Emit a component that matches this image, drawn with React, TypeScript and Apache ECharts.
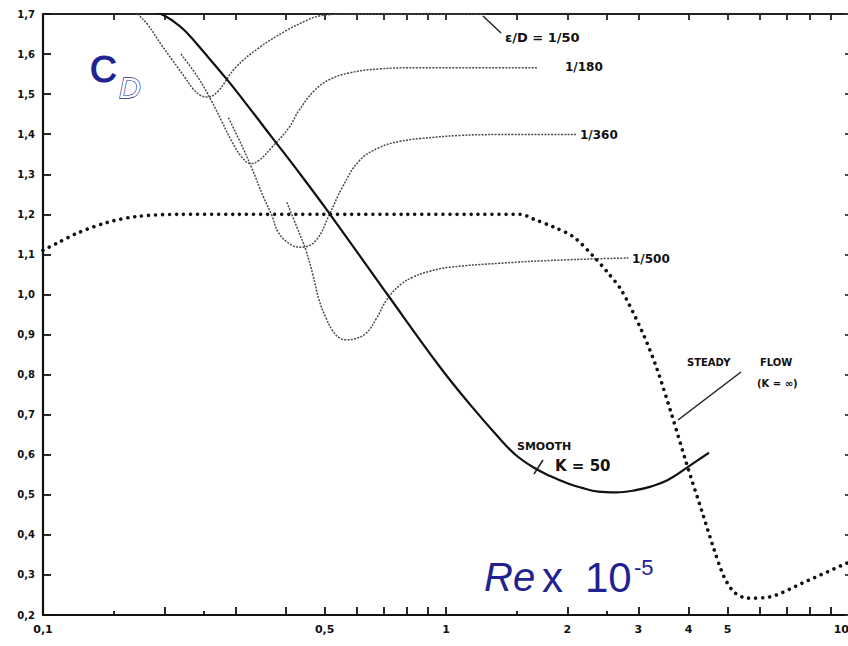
import React, { useEffect, useRef } from 'react';
import * as echarts from 'echarts';

// ---- axis ticks / labels ----
const xLabelValues = [0.1, 0.5, 1, 2, 3, 4, 5, 10];
const xLabelTexts = ['0,1', '0,5', '1', '2', '3', '4', '5', '10'];
const xMajorTicks = [0.2, 0.3, 0.4, 0.5, 0.6, 0.7, 0.8, 0.9, 1, 2, 3, 4, 5, 6, 7, 8, 9];
const xMinorTicks = [0.15, 0.25, 1.5, 2.5];

// ---- smooth cylinder, K = 50 ----
const smoothX = [0.175, 0.196, 0.210, 0.225, 0.253, 0.288, 0.329, 0.370, 0.432, 0.513, 0.712, 0.966, 1.148, 1.365, 1.487, 1.650, 1.820, 2.007, 2.163, 2.385, 2.645, 2.935, 3.236, 3.569, 4.004, 4.493];
const smoothY = [1.712, 1.700, 1.683, 1.658, 1.600, 1.533, 1.459, 1.392, 1.304, 1.203, 1.003, 0.819, 0.725, 0.638, 0.600, 0.568, 0.546, 0.528, 0.518, 0.508, 0.506, 0.511, 0.521, 0.538, 0.571, 0.605];

// ---- steady flow (K = infinity) ----
const steadyX = [0.1, 0.1084, 0.1216, 0.1445, 0.1718, 0.2163, 0.3, 0.5, 0.8, 1.2, 1.531, 1.650, 1.852, 2.078, 2.332, 2.527, 2.723, 3.055, 3.331, 3.631, 3.958, 4.315, 4.624, 4.898, 5.188, 5.592, 6.346, 7.674, 10];
const steadyY = [1.110, 1.128, 1.153, 1.180, 1.195, 1.200, 1.200, 1.200, 1.200, 1.200, 1.200, 1.188, 1.168, 1.143, 1.093, 1.053, 1.011, 0.911, 0.817, 0.700, 0.576, 0.459, 0.364, 0.295, 0.257, 0.242, 0.245, 0.280, 0.332];

// ---- rough cylinders ----
const rough50X = [0.1669, 0.1718, 0.182, 0.1961, 0.2101, 0.2252, 0.2358, 0.2469, 0.257, 0.2723, 0.3003, 0.3428, 0.4003, 0.4492, 0.4842, 0.5754, 0.7674, 1.252];
const rough50Y = [1.712, 1.700, 1.673, 1.625, 1.583, 1.541, 1.513, 1.496, 1.493, 1.508, 1.566, 1.615, 1.658, 1.683, 1.695, 1.700, 1.700, 1.700];

const rough180X = [0.22, 0.2427, 0.2616, 0.2771, 0.2934, 0.3108, 0.3273, 0.3428, 0.3695, 0.4074, 0.4315, 0.4704, 0.5129, 0.5754, 0.6839, 0.861, 1.6885];
const rough180Y = [1.600, 1.541, 1.484, 1.434, 1.384, 1.344, 1.327, 1.334, 1.367, 1.416, 1.459, 1.508, 1.536, 1.553, 1.563, 1.566, 1.566];

const rough360X = [0.2884, 0.309, 0.3292, 0.3528, 0.3695, 0.3846, 0.4145, 0.439, 0.4759, 0.5129, 0.5527, 0.6095, 0.6839, 0.7674, 0.861, 1.0839, 1.3646, 2.1012];
const rough360Y = [1.441, 1.379, 1.317, 1.242, 1.198, 1.153, 1.123, 1.118, 1.135, 1.198, 1.267, 1.334, 1.367, 1.382, 1.389, 1.397, 1.399, 1.399];

const rough500X = [0.4027, 0.4266, 0.4492, 0.4677, 0.4842, 0.5041, 0.5219, 0.5433, 0.5655, 0.5922, 0.6346, 0.673, 0.712, 0.7674, 0.8272, 0.912, 1.0233, 1.3646, 1.9275, 2.835];
const rough500Y = [1.230, 1.168, 1.110, 1.048, 0.986, 0.941, 0.911, 0.892, 0.887, 0.889, 0.904, 0.941, 0.986, 1.023, 1.043, 1.058, 1.068, 1.078, 1.086, 1.091];

const lg = (v: number) => Math.log10(v);
const pairs = (xs: number[], ys: number[]) => xs.map((x, i) => [lg(x), ys[i]]);

export default function App() {
  const ref = useRef<HTMLDivElement>(null);
  useEffect(() => {
    const chart = echarts.init(ref.current as HTMLDivElement, null, { renderer: 'svg' });
    const ink = '#111';
    const labelFont = 'DejaVu Sans';
    const blue = '#1f2391';
    const formatX = (v: number) => {
      const i = xLabelValues.findIndex((x) => Math.abs(lg(x) - v) < 1e-6);
      return i >= 0 ? xLabelTexts[i] : '';
    };
    const roughStyle = { color: '#4a4a4a', width: 1.5, type: [2, 1.3] };
    const lineSeries = (name: string, data: number[][], lineStyle: any, smooth = 0.4, z = 2) => ({
      name,
      type: 'line',
      data,
      xAxisIndex: 0,
      yAxisIndex: 0,
      showSymbol: false,
      symbol: 'none',
      smooth,
      silent: true,
      clip: true,
      z,
      lineStyle,
    });
    const txt = (text: string, x: number, y: number, font: string, extra: any = {}) => ({
      type: 'text',
      x,
      y,
      silent: true,
      style: { text, font, fill: ink, verticalAlign: 'middle', align: 'left', ...extra },
    });
    const leader = (x1: number, y1: number, x2: number, y2: number) => ({
      type: 'line',
      silent: true,
      shape: { x1, y1, x2, y2 },
      style: { stroke: '#222', lineWidth: 1.5 },
    });

    const option: any = {
      animation: false,
      backgroundColor: '#ffffff',
      grid: { left: 43, top: 14, width: 806, bottom: 31, containLabel: false, outerBoundsMode: 'none' },
      xAxis: [
        {
          type: 'value', position: 'bottom', min: -1, max: 1,
          axisLine: { show: true, onZero: false, lineStyle: { color: ink, width: 2.2 } },
          axisTick: { show: true, inside: true, length: 8, customValues: xMajorTicks.map(lg), lineStyle: { color: ink, width: 1.8 } },
          axisLabel: { show: true, customValues: xLabelValues.map(lg), formatter: formatX, fontFamily: labelFont, fontWeight: 'bold', fontSize: 11, color: ink, margin: 9, alignMaxLabel: 'right' },
          splitLine: { show: false },
        },
        {
          type: 'value', position: 'bottom', min: -1, max: 1,
          axisLine: { show: false, onZero: false },
          axisTick: { show: true, inside: true, length: 4, customValues: xMinorTicks.map(lg), lineStyle: { color: ink, width: 1.8 } },
          axisLabel: { show: false },
          splitLine: { show: false },
        },
        {
          type: 'value', position: 'top', min: -1, max: 1,
          axisLine: { show: true, onZero: false, lineStyle: { color: '#222', width: 1.8 } },
          axisTick: { show: true, inside: true, length: 6, customValues: xMajorTicks.concat(xMinorTicks).map(lg), lineStyle: { color: '#222', width: 1.8 } },
          axisLabel: { show: false },
          splitLine: { show: false },
        },
      ],
      yAxis: [
        {
          type: 'value', position: 'left', min: 0.2, max: 1.7, interval: 0.1,
          axisLine: { show: true, onZero: false, lineStyle: { color: ink, width: 2.2 } },
          axisTick: { show: true, inside: true, length: 8, lineStyle: { color: ink, width: 1.8 } },
          axisLabel: { show: true, formatter: (v: number) => v.toFixed(1).replace('.', ','), fontFamily: labelFont, fontWeight: 'bold', fontSize: 10, color: ink, margin: 8 },
          splitLine: { show: false },
        },
        {
          type: 'value', position: 'right', min: 0.2, max: 1.7, interval: 0.1,
          axisLine: { show: false, onZero: false },
          axisTick: { show: true, inside: true, length: 4, lineStyle: { color: '#333', width: 1.8 } },
          axisLabel: { show: false },
          splitLine: { show: false },
        },
      ],
      series: [
        lineSeries('ε/D = 1/50', pairs(rough50X, rough50Y), roughStyle),
        lineSeries('1/180', pairs(rough180X, rough180Y), roughStyle),
        lineSeries('1/360', pairs(rough360X, rough360Y), roughStyle),
        lineSeries('1/500', pairs(rough500X, rough500Y), roughStyle),
        lineSeries('Smooth K = 50', pairs(smoothX, smoothY), { color: ink, width: 2.2, type: 'solid' }, 0.4, 3),
        lineSeries('Steady flow', pairs(steadyX, steadyY), { color: ink, width: 3.6, type: [0.01, 7], cap: 'round' }, 0.3, 4),
      ],
      graphic: [
        leader(483, 16, 501, 33),
        leader(741, 372, 678, 420),
        leader(543, 460, 534, 474),
        txt('ε/D = 1/50', 505, 37, `bold 13px "${labelFont}"`),
        txt('1/180', 565, 67, `bold 12px "${labelFont}"`),
        txt('1/360', 580, 135, `bold 12px "${labelFont}"`),
        txt('1/500', 632, 259, `bold 12px "${labelFont}"`),
        txt('STEADY', 687, 362, `bold 10px "${labelFont}"`),
        txt('FLOW', 760, 362, `bold 10px "${labelFont}"`),
        txt('(K = ∞)', 757, 383, `bold 10px "${labelFont}"`),
        txt('SMOOTH', 517, 446, `bold 11px "${labelFont}"`),
        txt('K = 50', 555, 466, `bold 15px "${labelFont}"`),
        txt('C', 90, 69, '37px "Liberation Sans"', { fill: blue, stroke: blue, lineWidth: 1.2 }),
        txt('D', 119, 87, 'italic 30px "Liberation Sans"', { fill: '#ffffff', stroke: blue, lineWidth: 1.3 }),
        txt('Re', 484, 577, 'italic 40px "Liberation Sans"', { fill: blue }),
        txt('x', 542, 577, '42px "Liberation Sans"', { fill: blue }),
        txt('10', 585, 577, '42px "Liberation Sans"', { fill: blue }),
        txt('-5', 634, 567, '22px "Liberation Sans"', { fill: blue }),
      ],
    };
    chart.setOption(option);
    return () => chart.dispose();
  }, []);
  return (
    <div
      ref={ref}
      style={{ position: 'fixed', left: 0, top: 0, width: 848, height: 646, background: '#fff' }}
    />
  );
}
